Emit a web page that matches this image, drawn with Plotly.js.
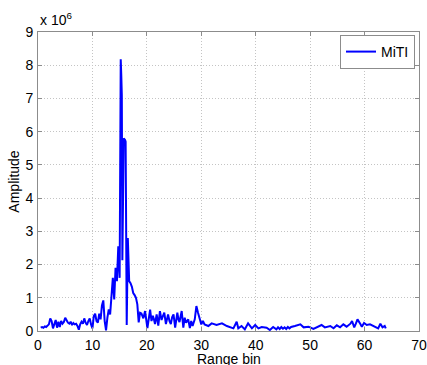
<!DOCTYPE html>
<html>
<head>
<meta charset="utf-8">
<script src="https://cdn.plot.ly/plotly-3.0.1.min.js"></script>
<style>html,body{margin:0;padding:0;background:#fff;}#chart{width:427px;height:365px;}</style>
</head>
<body>
<div id="chart"></div>
<script>
// Range bin positions
const rangeBin = [
  0.5,0.75,1,1.25,1.5,1.75,2,2.25,2.5,2.75,3,3.25,3.5,3.75,4,4.25,4.5,4.75,5,5.25,
  5.5,5.75,6,6.25,6.5,6.75,7,7.25,7.5,7.75,8,8.25,8.5,8.75,9,9.25,9.5,9.75,10,
  10.25,10.5,10.75,11,11.25,11.5,11.75,12,12.25,12.5,12.75,13,13.25,13.5,13.75,14,14.25,14.5,14.75,
  15,15.1,15.2,15.3,15.4,15.5,15.75,16,16.1,16.3,16.5,16.75,17,17.25,17.5,17.75,18,18.25,18.5,18.75,
  19,19.36,19.67,20.1,20.35,20.6,20.85,21.1,21.3,21.5,21.8,22.1,22.4,22.7,22.95,23.2,23.5,23.9,24.15,24.4,24.65,24.9,
  25.2,25.6,25.8,26,26.4,26.7,26.95,27.2,27.6,27.9,28.15,28.4,28.8,29.1,29.4,29.7,30,30.3,30.6,
  31.3,31.9,32.8,33.8,34.7,35.3,35.9,36.5,36.8,37.4,38,38.6,39.3,39.9,40.5,41.1,42,42.6,43.2,43.8,
  44.1,44.4,44.7,45,45.3,45.6,45.9,46.2,46.5,47.2,48.2,48.8,49.7,50.6,51.5,52.1,52.7,53.7,54.3,54.9,
  55.5,56.1,56.7,57.4,57.7,58.1,58.4,58.7,59.2,59.5,59.9,60.4,61,61.6,62.1,62.5,62.9,63.3,63.7,63.9
];
// Amplitude in units of 10^6
const amplitude = [
  0.10,0.12,0.10,0.14,0.12,0.16,0.20,0.38,0.30,0.08,0.25,0.33,0.10,0.28,0.12,0.30,0.22,0.27,0.40,0.30,
  0.25,0.22,0.28,0.18,0.24,0.20,0.22,0.15,0.04,0.20,0.28,0.22,0.38,0.25,0.18,0.30,0.38,0.20,0.08,
  0.45,0.52,0.30,0.25,0.52,0.35,0.77,0.92,0.30,0.02,0.40,0.65,0.50,1.20,1.60,0.95,1.90,1.50,2.55,
  1.60,6.00,8.18,7.70,7.10,2.13,5.80,5.75,5.70,0.18,2.80,1.50,1.44,1.33,1.14,1.08,1.00,0.80,0.26,0.55,
  0.53,0.38,0.60,0.09,0.45,0.64,0.30,0.46,0.35,0.21,0.50,0.16,0.60,0.33,0.45,0.55,0.21,0.50,0.30,0.21,0.42,0.50,
  0.10,0.55,0.35,0.27,0.60,0.10,0.40,0.25,0.35,0.09,0.30,0.15,0.35,0.75,0.55,0.35,0.20,0.30,0.20,
  0.15,0.23,0.18,0.23,0.15,0.11,0.08,0.28,0.08,0.15,0.05,0.23,0.08,0.18,0.08,0.12,0.10,0.03,0.12,0.05,
  0.11,0.06,0.12,0.07,0.11,0.06,0.12,0.08,0.12,0.15,0.20,0.11,0.13,0.06,0.13,0.18,0.11,0.15,0.08,0.17,
  0.11,0.20,0.13,0.22,0.30,0.11,0.22,0.35,0.22,0.13,0.24,0.18,0.20,0.15,0.11,0.08,0.22,0.11,0.15,0.08
];
const xTicks = [0,10,20,30,40,50,60,70];
const yTicks = [0,1,2,3,4,5,6,7,8,9];
const seriesName = 'MiTI';
const xTitle = 'Range bin';
const yTitle = 'Amplitude';

const font = {family: 'Liberation Sans, Arial, sans-serif', size: 14, color: '#000'};
const axisCommon = {
  showline: true, linecolor: '#8c8c8c', linewidth: 1, mirror: 'ticks',
  ticks: 'inside', ticklen: 4, tickcolor: '#8c8c8c',
  showgrid: true, gridcolor: '#c4c4c4', griddash: '1px,2px', gridwidth: 1,
  zeroline: false, tickfont: font
};

Plotly.newPlot('chart', [{
  x: rangeBin, y: amplitude, type: 'scatter', mode: 'lines', name: seriesName,
  line: {color: '#0000ff', width: 2}
}], {
  width: 427, height: 365,
  margin: {l: 38, r: 8, t: 32, b: 34},
  paper_bgcolor: '#fff', plot_bgcolor: '#fff',
  font: font,
  showlegend: true,
  legend: {x: 0.9895, xanchor: 'right', y: 0.99, yanchor: 'top',
           bordercolor: '#8c8c8c', borderwidth: 1, bgcolor: '#fff',
           font: font, itemwidth: 30, tracegroupgap: 0},
  xaxis: Object.assign({}, axisCommon, {
    range: [0, 70], tickvals: xTicks, ticktext: xTicks.map(String),
    ticklabelstandoff: 1
  }),
  yaxis: Object.assign({}, axisCommon, {
    range: [0, 9], tickvals: yTicks, ticktext: yTicks.map(String),
    ticklabelstandoff: 1,
    title: {text: yTitle, font: font, standoff: 2}
  }),
  annotations: [{
    xref: 'paper', yref: 'paper', x: 0, y: 1, xanchor: 'left', yanchor: 'bottom',
    text: 'x 10<sup>6</sup>', showarrow: false, font: font, yshift: 2
  }, {
    xref: 'paper', yref: 'paper', x: 0.5, y: 0, xanchor: 'center', yanchor: 'top',
    text: xTitle, showarrow: false, font: font, yshift: -18
  }]
}, {displayModeBar: false, staticPlot: true});
</script>
</body>
</html>
